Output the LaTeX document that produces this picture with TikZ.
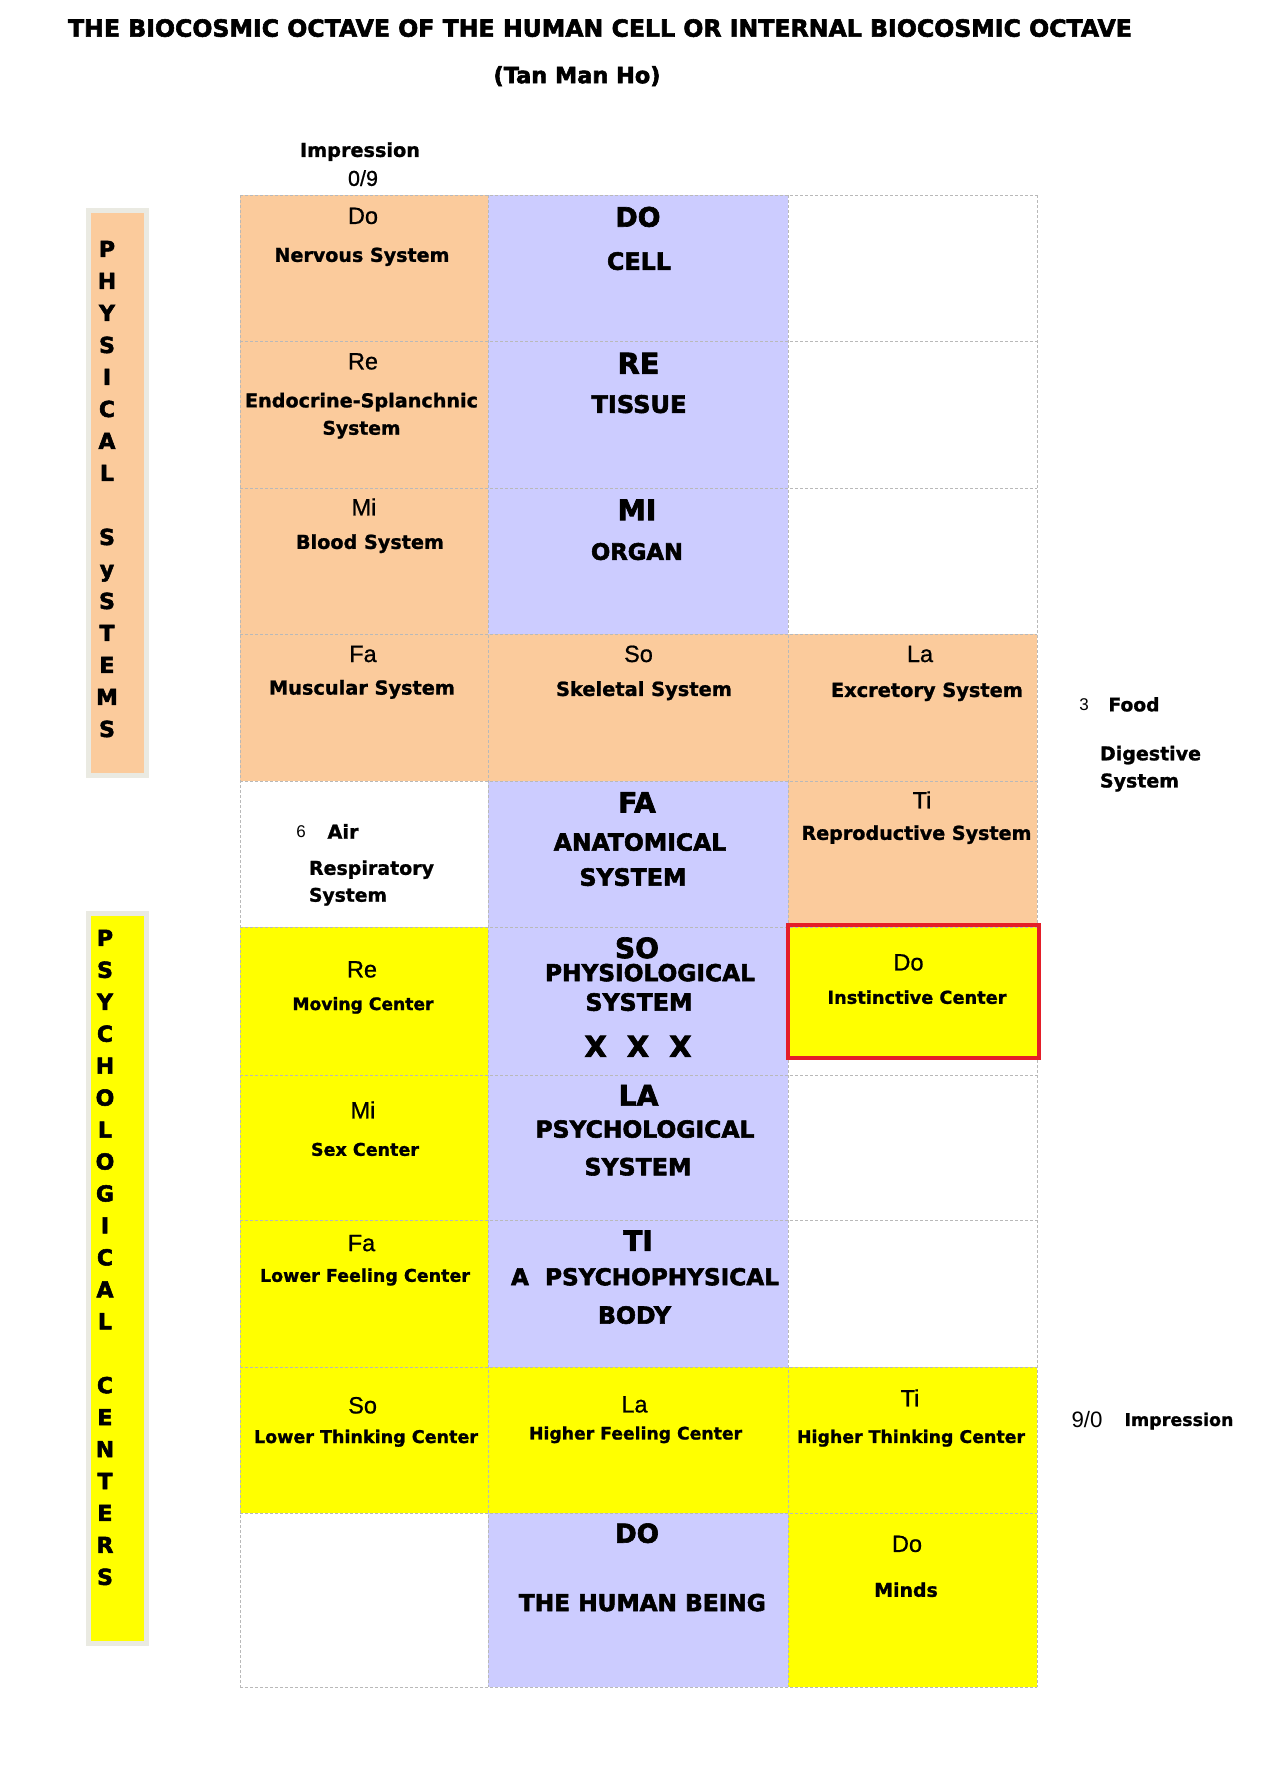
\documentclass[tikz,border=0pt]{standalone}
\usepackage{fontspec}
\setmainfont{DejaVu Sans}
\newfontfamily\notefam{Liberation Sans}[FakeBold=0.8]
\newfontfamily\numfam{Liberation Sans}
\newfontfamily\labfam{DejaVu Sans}[BoldFeatures={FakeBold=1.2}]
\newfontfamily\heavyfam{DejaVu Sans}[BoldFeatures={FakeBold=2.4}]
\newcommand\labfont{\labfam\bfseries}
\newcommand\heavyfont{\heavyfam\bfseries}
\definecolor{peach}{RGB}{251,203,156}
\definecolor{lav}{RGB}{204,204,255}
\definecolor{yel}{RGB}{255,255,0}
\definecolor{redb}{RGB}{228,30,40}
\definecolor{gridc}{RGB}{185,185,185}
\definecolor{framec}{RGB}{234,234,226}
% text fitted to a given width, cap-centred on the node centre
\newcommand\fitw[3][\labfont]{%
  \begingroup#1\fontsize{10pt}{12pt}\selectfont
  \setbox0\hbox{#3}%
  \pgfmathsetmacro\fitsize{10*#2/\the\wd0}%
  \fontsize{\fitsize pt}{\fitsize pt}\selectfont
  \raisebox{-0.41em}[0pt][0pt]{#3}\endgroup}
\newcommand\notename[1]{{\notefam\fontsize{23.5pt}{23.5pt}\selectfont\raisebox{-0.40em}[0pt][0pt]{#1}}}
\newcommand\smallnum[1]{{\numfam\fontsize{17pt}{17pt}\selectfont\raisebox{-0.40em}[0pt][0pt]{#1}}}
\newcommand\vlet[1]{{\heavyfont\fontsize{22pt}{22pt}\selectfont\raisebox{-0.38em}[0pt][0pt]{#1}}}
\tikzset{
  txt/.style={inner sep=0pt, outer sep=0pt, anchor=center},
  ltxt/.style={inner sep=0pt, outer sep=0pt, anchor=west},
  gridline/.style={draw=gridc, line width=0.8pt, dash pattern=on 3pt off 2pt},
  barframe/.style={draw=framec, line width=5pt},
  redframe/.style={draw=redb, line width=4pt},
}
\begin{document}
\begin{tikzpicture}[x=1pt,y=-1pt]
\useasboundingbox (0,0) rectangle (1275,1781);
\fill[white] (0,0) rectangle (1275,1781);

% ---- cell fills ----
\fill[peach] (240,195) rectangle (488,781);
\fill[lav]   (488,195) rectangle (788,634);
\fill[peach] (488,634) rectangle (1037,781);
\fill[lav]   (488,781) rectangle (788,1367);
\fill[peach] (788,781) rectangle (1037,927);
\fill[yel]   (240,927) rectangle (488,1513);
\fill[yel]   (488,1367) rectangle (788,1513);
\fill[yel]   (788,1367) rectangle (1037,1687);
\fill[lav]   (488,1513) rectangle (788,1687);
\fill[yel]   (788,925) rectangle (1039,1058);

% ---- dashed grid ----
\foreach \yy in {195,341,488,634,781,927,1075,1220,1367,1513,1687}
  \draw[gridline] (240,\yy) -- (1037,\yy);
\foreach \xx in {240,488,788,1037}
  \draw[gridline] (\xx,195) -- (\xx,1687);

% red frame
\draw[redframe] (788,925) rectangle (1039,1058);

% ---- side bars ----
\draw[barframe, fill=peach] (88.5,210.5) rectangle (146.5,775.5);
\draw[barframe, fill=yel]   (88.5,913.5) rectangle (146.5,1643.5);
\foreach \i/\ch in {0/P,1/H,2/Y,3/S,4/I,5/C,6/A,7/L,9/S,10/y,11/S,12/T,13/E,14/M,15/S}
  \node[txt] (phys\i) at (107,248.6+32*\i) {\vlet{\ch}};
\foreach \i/\ch in {0/P,1/S,2/Y,3/C,4/H,5/O,6/L,7/O,8/G,9/I,10/C,11/A,12/L,14/C,15/E,16/N,17/T,18/E,19/R,20/S}
  \node[txt] (psy\i) at (105,937.5+31.95*\i) {\vlet{\ch}};

% ---- title ----
\node[txt] (title) at (600,27) {\fitw[\heavyfont]{1064}{THE BIOCOSMIC OCTAVE OF THE HUMAN CELL OR INTERNAL BIOCOSMIC OCTAVE}};
\node[txt] (author) at (577,74) {\fitw[\heavyfont]{167}{(Tan Man Ho)}};
\node[txt] (imptop) at (360,149) {\fitw{120}{Impression}};
\node[txt] (zn) at (363,177) {\fitw[\notefam]{30}{0/9}};

% ---- row 1 ----
\node[txt] (r1a) at (363,214.5) {\notename{Do}};
\node[txt] (r1b) at (362,254) {\fitw{175}{Nervous System}};
\node[txt] (r1c) at (638,215.7) {\fitw[\heavyfont]{45}{DO}};
\node[txt] (r1d) at (639,260) {\fitw[\heavyfont]{64}{CELL}};
% ---- row 2 ----
\node[txt] (r2a) at (363,360) {\notename{Re}};
\node[txt] (r2b) at (361.5,399.5) {\fitw{233}{Endocrine-Splanchnic}};
\node[txt] (r2c) at (361.5,427) {\fitw{78}{System}};
\node[txt] (r2d) at (638.5,362) {\fitw[\heavyfont]{42}{RE}};
\node[txt] (r2e) at (639,403) {\fitw[\heavyfont]{95}{TISSUE}};
% ---- row 3 ----
\node[txt] (r3a) at (364,506) {\notename{Mi}};
\node[txt] (r3b) at (370,541) {\fitw{148}{Blood System}};
\node[txt] (r3c) at (637,508.5) {\fitw[\heavyfont]{39}{MI}};
\node[txt] (r3d) at (637,550.5) {\fitw[\heavyfont]{92}{ORGAN}};
% ---- row 4 ----
\node[txt] (r4a) at (363,652.6) {\notename{Fa}};
\node[txt] (r4b) at (362,686.7) {\fitw{186}{Muscular System}};
\node[txt] (r4c) at (638.5,652.6) {\notename{So}};
\node[txt] (r4d) at (644,688) {\fitw{176}{Skeletal System}};
\node[txt] (r4e) at (920,652.6) {\notename{La}};
\node[txt] (r4f) at (927,689) {\fitw{192}{Excretory System}};
\node[txt] (food3) at (1084,703.7) {\smallnum{3}};
\node[txt] (food) at (1134,703.7) {\fitw{51}{Food}};
\node[ltxt] (dig1) at (1100,752.5) {\fitw{101}{Digestive}};
\node[ltxt] (dig2) at (1100,779.7) {\fitw{79}{System}};
% ---- row 5 ----
\node[txt] (air6) at (301,830.8) {\smallnum{6}};
\node[txt] (air) at (343,830.8) {\fitw{31}{Air}};
\node[ltxt] (resp1) at (309,867) {\fitw{125}{Respiratory}};
\node[ltxt] (resp2) at (309,894) {\fitw{78}{System}};
\node[txt] (r5c) at (637,801) {\fitw[\heavyfont]{37.5}{FA}};
\node[txt] (r5d) at (640,841) {\fitw[\heavyfont]{172.5}{ANATOMICAL}};
\node[txt] (r5e) at (633,876) {\fitw[\heavyfont]{107}{SYSTEM}};
\node[txt] (r5f) at (922,799) {\notename{Ti}};
\node[txt] (r5g) at (916.5,832) {\fitw{230}{Reproductive System}};
% ---- row 6 ----
\node[txt] (r6a) at (362,968) {\notename{Re}};
\node[txt] (r6b) at (363,1003) {\fitw{141}{Moving Center}};
\node[txt] (r6c) at (637,946.6) {\fitw[\heavyfont]{44}{SO}};
\node[txt] (r6d) at (650,971.6) {\fitw[\heavyfont]{210}{PHYSIOLOGICAL}};
\node[txt] (r6e) at (639,1001) {\fitw[\heavyfont]{107}{SYSTEM}};
\node[txt] (r6f) at (638,1045) {\fitw[\heavyfont]{107}{X~~X~~X}};
\node[txt] (r6g) at (908.5,961) {\notename{Do}};
\node[txt] (r6h) at (917,996.5) {\fitw{179}{Instinctive Center}};
% ---- row 7 ----
\node[txt] (r7a) at (363,1109) {\notename{Mi}};
\node[txt] (r7b) at (365,1148.6) {\fitw{108}{Sex Center}};
\node[txt] (r7c) at (638.5,1094) {\fitw[\heavyfont]{40}{LA}};
\node[txt] (r7d) at (645,1128) {\fitw[\heavyfont]{219}{PSYCHOLOGICAL}};
\node[txt] (r7e) at (638,1165.6) {\fitw[\heavyfont]{107}{SYSTEM}};
% ---- row 8 ----
\node[txt] (r8a) at (361.5,1241.7) {\notename{Fa}};
\node[txt] (r8b) at (365,1274.6) {\fitw{210}{Lower Feeling Center}};
\node[txt] (r8c) at (638,1239.4) {\fitw[\heavyfont]{29.5}{TI}};
\node[txt] (r8d) at (645,1275.7) {\fitw[\heavyfont]{268}{A~~PSYCHOPHYSICAL}};
\node[txt] (r8e) at (634.5,1314) {\fitw[\heavyfont]{73}{BODY}};
% ---- row 9 ----
\node[txt] (r9a) at (362.6,1404) {\notename{So}};
\node[txt] (r9b) at (366,1435.8) {\fitw{224}{Lower Thinking Center}};
\node[txt] (r9c) at (634.5,1403) {\notename{La}};
\node[txt] (r9d) at (635.6,1432.4) {\fitw{213}{Higher Feeling Center}};
\node[txt] (r9e) at (910,1397) {\notename{Ti}};
\node[txt] (r9f) at (911,1435.8) {\fitw{228}{Higher Thinking Center}};
\node[txt] (imp90) at (1087,1418.75) {\fitw[\numfam]{31}{9/0}};
\node[txt] (impr) at (1179,1418.75) {\fitw{109}{Impression}};
% ---- row 10 ----
\node[txt] (r10a) at (637,1532) {\fitw[\heavyfont]{44}{DO}};
\node[txt] (r10b) at (642.4,1601.5) {\fitw[\heavyfont]{247}{THE HUMAN BEING}};
\node[txt] (r10c) at (907,1542.5) {\notename{Do}};
\node[txt] (r10d) at (906,1589) {\fitw{63.6}{Minds}};
\end{tikzpicture}
\end{document}
